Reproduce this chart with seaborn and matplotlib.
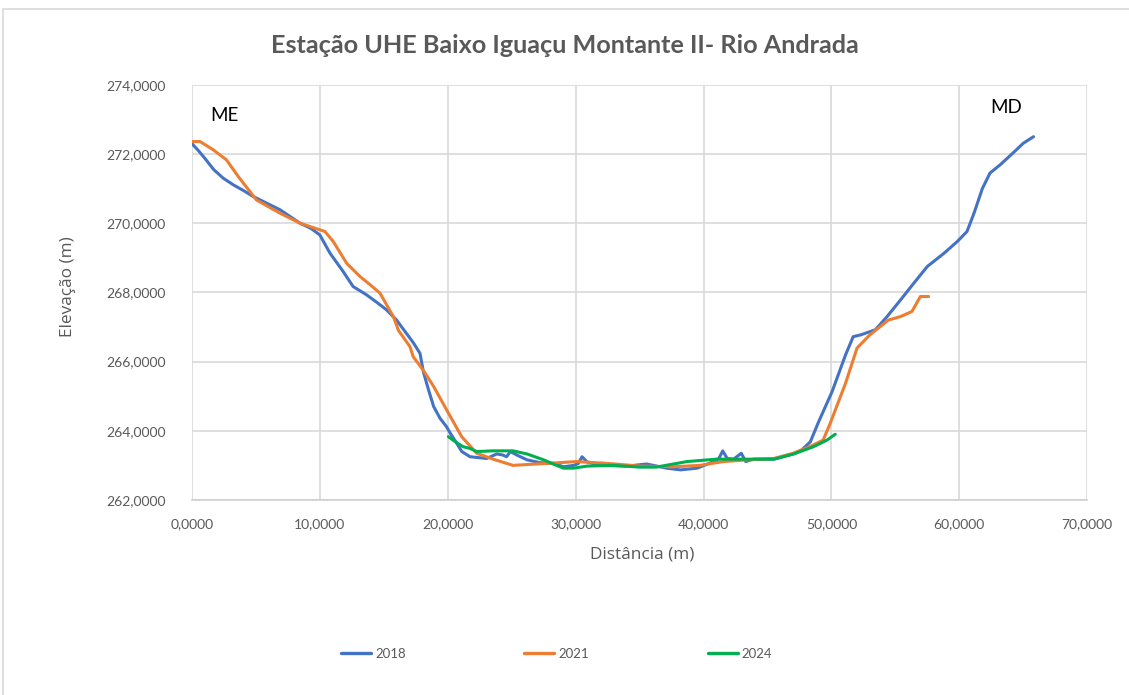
import pandas as pd
import seaborn as sns
import matplotlib.pyplot as plt
from matplotlib.patches import Rectangle
from matplotlib.ticker import FuncFormatter, MultipleLocator

# Perfil transversal - distancia (m) x elevacao (m)
dist_2018 = [0.0, 0.5, 1.0, 1.7, 2.45, 3.23, 4.0, 4.8, 6.0, 6.88, 8.45, 9.3, 10.0, 10.8,
             11.83, 12.6, 13.65, 14.5, 15.2, 16.0, 16.5, 17.3, 17.83, 18.1, 18.5, 18.9,
             19.4, 19.9, 20.2, 20.7, 21.1, 21.74, 23.05, 23.83, 24.3, 24.6, 24.9, 25.4,
             26.2, 27.2, 28.3, 29.05, 29.85, 30.2, 30.5, 30.9, 31.9, 34.0, 35.56, 37.1,
             38.2, 39.5, 40.8, 41.2, 41.5, 41.85, 42.35, 42.95, 43.3, 43.9, 45.5, 47.0,
             47.6, 48.35, 49.0, 50.05, 51.1, 51.7, 52.27, 53.44, 54.35, 55.4, 56.45,
             57.5, 58.8, 59.84, 60.6, 61.15, 61.8, 62.4, 63.2, 64.2, 65.0, 65.8]
elev_2018 = [272.3, 272.1, 271.88, 271.55, 271.3, 271.11, 270.95, 270.77, 270.55, 270.39,
             270.0, 269.85, 269.66, 269.13, 268.6, 268.17, 267.93, 267.7, 267.5, 267.2,
             266.95, 266.55, 266.24, 265.7, 265.18, 264.7, 264.36, 264.12, 263.93, 263.64,
             263.4, 263.25, 263.2, 263.33, 263.3, 263.25, 263.4, 263.3, 263.16, 263.08,
             263.06, 262.96, 263.0, 263.05, 263.25, 263.1, 263.0, 262.98, 263.04, 262.92,
             262.87, 262.92, 263.11, 263.2, 263.42, 263.2, 263.18, 263.35, 263.11, 263.18,
             263.18, 263.33, 263.42, 263.68, 264.26, 265.13, 266.19, 266.72, 266.77,
             266.92, 267.3, 267.78, 268.27, 268.75, 269.13, 269.47, 269.76, 270.29, 271.0,
             271.45, 271.69, 272.03, 272.31, 272.5]

dist_2021 = [0.0, 0.63, 1.67, 2.7, 3.62, 5.05, 6.88, 8.45, 10.4, 11.05, 12.1, 13.14, 14.0,
             14.7, 15.75, 16.15, 17.05, 17.3, 18.07, 18.9, 19.92, 21.09, 22.26, 23.55,
             25.1, 26.9, 27.95, 30.05, 32.4, 35.0, 37.6, 39.7, 41.55, 43.4, 45.5, 47.0,
             48.3, 49.35, 49.9, 51.1, 52.0, 53.0, 54.45, 55.4, 56.3, 56.95, 57.6]
elev_2021 = [272.36, 272.36, 272.12, 271.83, 271.35, 270.67, 270.29, 270.0, 269.76, 269.47,
             268.84, 268.46, 268.2, 267.98, 267.3, 266.9, 266.43, 266.14, 265.76, 265.28,
             264.6, 263.83, 263.35, 263.18, 263.0, 263.04, 263.06, 263.11, 263.06, 262.98,
             262.96, 263.0, 263.11, 263.16, 263.2, 263.35, 263.54, 263.73, 264.21, 265.37,
             266.39, 266.77, 267.2, 267.3, 267.45, 267.88, 267.88]

dist_2024 = [20.05, 20.6, 21.2, 21.74, 22.26, 23.55, 25.1, 26.2, 27.5, 28.5, 29.05, 29.85,
             30.9, 32.95, 35.0, 36.3, 38.7, 41.0, 42.9, 45.5, 47.05, 48.6, 49.65, 50.3]
elev_2024 = [263.83, 263.68, 263.54, 263.49, 263.40, 263.42, 263.42, 263.33, 263.16, 263.0,
             262.92, 262.92, 262.98, 263.0, 262.95, 262.95, 263.11, 263.18, 263.18, 263.18,
             263.33, 263.54, 263.73, 263.9]

anos = ["2018", "2021", "2024"]
cores = ["#4472C4", "#ED7D31", "#00B050"]

df = pd.concat([
    pd.DataFrame({"dist": dist_2018, "elev": elev_2018, "ano": "2018"}),
    pd.DataFrame({"dist": dist_2021, "elev": elev_2021, "ano": "2021"}),
    pd.DataFrame({"dist": dist_2024, "elev": elev_2024, "ano": "2024"}),
], ignore_index=True)

sns.set_style("white")
plt.rcParams["font.family"] = ["Lato", "DejaVu Sans"]

cinza = "#595959"
fig = plt.figure(figsize=(11.29, 6.95), dpi=100)
ax = fig.add_axes([0.170, 0.2806, 0.793, 0.5974])

sns.lineplot(data=df, x="dist", y="elev", hue="ano", hue_order=anos,
             palette=dict(zip(anos, cores)), sort=False, estimator=None,
             linewidth=2.2, ax=ax, legend=False)

ax.set_xlim(0, 70)
ax.set_ylim(262, 274)
ax.xaxis.set_major_locator(MultipleLocator(10))
ax.yaxis.set_major_locator(MultipleLocator(2))
fmt = FuncFormatter(lambda v, p: f"{v:.4f}".replace(".", ","))
ax.xaxis.set_major_formatter(fmt)
ax.yaxis.set_major_formatter(fmt)
ax.grid(True, color="#d9d9d9", linewidth=1.2)
for s in ["top", "right", "left"]:
    ax.spines[s].set_visible(False)
ax.spines["bottom"].set_color("#d0d0d0")
ax.spines["bottom"].set_linewidth(1.2)
ax.tick_params(axis="both", length=0, labelsize=10, labelcolor=cinza)
ax.tick_params(axis="x", pad=13)
ax.tick_params(axis="y", pad=19)

# rotulos dos eixos em fonte mais larga, como no original
ax.set_xlabel("Distância (m)", fontsize=12.4, color=cinza,
              family=["Open Sans", "DejaVu Sans"])
ax.set_ylabel("Elevação (m)", fontsize=12.4, color=cinza,
              family=["Open Sans", "DejaVu Sans"])
ax.xaxis.set_label_coords(0.503, -0.112)
ax.yaxis.set_label_coords(-0.130, 0.513)

ax.text(1.4, 273.1, "ME", fontsize=13.5, va="center", ha="left", color="black")
ax.text(62.4, 273.33, "MD", fontsize=13.5, va="center", ha="left", color="black")

fig.suptitle("Estação UHE Baixo Iguaçu Montante II- Rio Andrada", x=0.5, y=0.935,
             va="center", fontsize=18.2, fontweight="bold", color=cinza)

handles = [plt.Line2D([], [], color=c, linewidth=2.4) for c in cores]
fig.legend(handles, anos, loc="center", bbox_to_anchor=(0.493, 0.059), ncol=3,
           frameon=False, fontsize=9.5, handlelength=2.27, handletextpad=0.3,
           columnspacing=9.0, labelcolor=cinza)

fig.patches.append(Rectangle((0.003, -0.01), 1.0, 1 - 9 / 695 + 0.01,
                             transform=fig.transFigure, fill=False,
                             edgecolor="#d9d9d9", linewidth=1.2))

fig.savefig("out.png", dpi=100, facecolor="white")
